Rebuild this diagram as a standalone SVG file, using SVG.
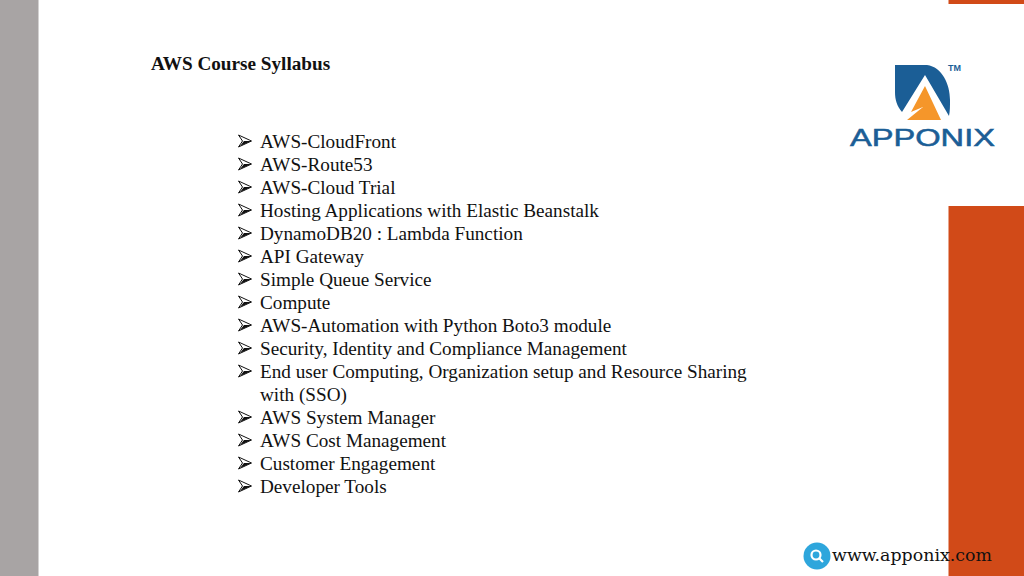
<svg xmlns="http://www.w3.org/2000/svg" width="1024" height="576" viewBox="0 0 1024 576">
<defs>
<style>
.t{font-family:"Liberation Serif","Times New Roman",serif;font-size:19.2px;fill:#111}
.h{font-family:"Liberation Serif","Times New Roman",serif;font-size:19.2px;font-weight:bold;fill:#111}
.u{font-family:"DejaVu Serif","Liberation Serif",serif;font-size:17.4px;fill:#111}
.l{font-family:"Liberation Sans",Arial,sans-serif;fill:#1b5e96;stroke:#1b5e96;stroke-width:.5}
</style>
<g id="b"><path d="M0 -6L13 0L0 6L4 0Z" fill="#fff" stroke="#111" stroke-width="1"/><path d="M1.5 5L13 0L5.5 0Z" fill="#111"/></g>
</defs>
<rect width="1024" height="576" fill="#fff"/>
<rect id="left-band" x="0" y="0" width="38.5" height="576" fill="#a8a4a4"/>
<rect id="right-top" x="948.5" y="0" width="75.5" height="4" fill="#d14a18"/>
<rect id="right-band" x="948.5" y="206" width="75.5" height="370" fill="#d14a18"/>
<text class="h" x="151" y="70">AWS Course Syllabus</text>
<g id="list">
<use href="#b" x="238.5" y="141"/><text class="t" x="260" y="148">AWS-CloudFront</text>
<use href="#b" x="238.5" y="164"/><text class="t" x="260" y="171">AWS-Route53</text>
<use href="#b" x="238.5" y="187"/><text class="t" x="260" y="194">AWS-Cloud Trial</text>
<use href="#b" x="238.5" y="210"/><text class="t" x="260" y="217">Hosting Applications with Elastic Beanstalk</text>
<use href="#b" x="238.5" y="233"/><text class="t" x="260" y="240">DynamoDB20 : Lambda Function</text>
<use href="#b" x="238.5" y="256"/><text class="t" x="260" y="263">API Gateway</text>
<use href="#b" x="238.5" y="279"/><text class="t" x="260" y="286">Simple Queue Service</text>
<use href="#b" x="238.5" y="302"/><text class="t" x="260" y="309">Compute</text>
<use href="#b" x="238.5" y="325"/><text class="t" x="260" y="332">AWS-Automation with Python Boto3 module</text>
<use href="#b" x="238.5" y="348"/><text class="t" x="260" y="355">Security, Identity and Compliance Management</text>
<use href="#b" x="238.5" y="371"/><text class="t" x="260" y="378">End user Computing, Organization setup and Resource Sharing</text>
<text class="t" x="260" y="401">with (SSO)</text>
<use href="#b" x="238.5" y="417"/><text class="t" x="260" y="424">AWS System Manager</text>
<use href="#b" x="238.5" y="440"/><text class="t" x="260" y="447">AWS Cost Management</text>
<use href="#b" x="238.5" y="463"/><text class="t" x="260" y="470">Customer Engagement</text>
<use href="#b" x="238.5" y="486"/><text class="t" x="260" y="493">Developer Tools</text>
</g>
<g id="logo">
<path d="M895 65H927C942 67 950 84 950 100C950 106 950 111 949 116L925 75L902 112C897 106 895 100 895 92Z" fill="#1b5e96"/>
<path d="M925 86L941 120H907L923 107L911 112Z" fill="#f5962a"/>
<text x="948" y="71" font-family="Liberation Sans,Arial,sans-serif" font-weight="bold" font-size="9" fill="#1b5e96">TM</text>
<text class="l" x="850" y="146" font-size="23" textLength="145" lengthAdjust="spacingAndGlyphs">APPONIX</text>
</g>
<g id="web">
<circle cx="817" cy="556" r="13.5" fill="#2ea6dc"/>
<circle cx="816" cy="555" r="4.5" fill="none" stroke="#fff" stroke-width="2.2"/>
<path d="M819.5 558.5L823 562" stroke="#fff" stroke-width="2.2"/>
<text class="u" x="832" y="561">www.apponix.com</text>
</g>
</svg>
